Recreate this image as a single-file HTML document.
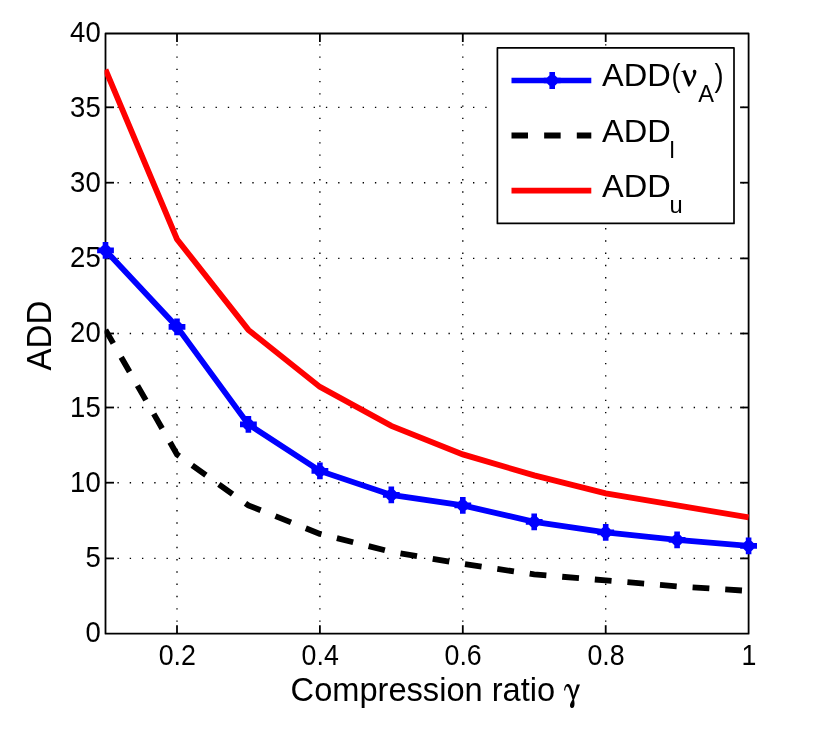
<!DOCTYPE html>
<html><head><meta charset="utf-8"><title>chart</title>
<style>
html,body{margin:0;padding:0;background:#fff;}
svg{display:block;will-change:transform}
text{font-family:"Liberation Sans",sans-serif;fill:#000}
</style></head><body>
<svg width="829" height="735" viewBox="0 0 829 735">
<rect width="829" height="735" fill="#fff"/>
<g stroke="#000" stroke-width="1.35" stroke-dasharray="1.35 10.91" stroke-dashoffset="0.3" stroke-linecap="butt" fill="none">
<line x1="177.0" y1="633.7" x2="177.0" y2="33.5"/>
<line x1="319.9" y1="633.7" x2="319.9" y2="33.5"/>
<line x1="462.8" y1="633.7" x2="462.8" y2="33.5"/>
<line x1="605.7" y1="633.7" x2="605.7" y2="33.5"/>
<line x1="105.5" y1="558.4" x2="748.6" y2="558.4"/>
<line x1="105.5" y1="482.7" x2="748.6" y2="482.7"/>
<line x1="105.5" y1="407.5" x2="748.6" y2="407.5"/>
<line x1="105.5" y1="333.5" x2="748.6" y2="333.5"/>
<line x1="105.5" y1="258.4" x2="748.6" y2="258.4"/>
<line x1="105.5" y1="182.7" x2="748.6" y2="182.7"/>
<line x1="105.5" y1="107.3" x2="748.6" y2="107.3"/>
</g>
<rect x="105.5" y="33.5" width="643.1" height="600.2" fill="none" stroke="#000" stroke-width="1.8" stroke-linejoin="round"/>
<g stroke="#000" stroke-width="1.8" stroke-linecap="butt">
<line x1="177.0" y1="633.7" x2="177.0" y2="625.2"/>
<line x1="177.0" y1="33.5" x2="177.0" y2="42.0"/>
<line x1="319.9" y1="633.7" x2="319.9" y2="625.2"/>
<line x1="319.9" y1="33.5" x2="319.9" y2="42.0"/>
<line x1="462.8" y1="633.7" x2="462.8" y2="625.2"/>
<line x1="462.8" y1="33.5" x2="462.8" y2="42.0"/>
<line x1="605.7" y1="633.7" x2="605.7" y2="625.2"/>
<line x1="605.7" y1="33.5" x2="605.7" y2="42.0"/>
<line x1="105.5" y1="558.4" x2="114.0" y2="558.4"/>
<line x1="748.6" y1="558.4" x2="740.1" y2="558.4"/>
<line x1="105.5" y1="482.7" x2="114.0" y2="482.7"/>
<line x1="748.6" y1="482.7" x2="740.1" y2="482.7"/>
<line x1="105.5" y1="407.5" x2="114.0" y2="407.5"/>
<line x1="748.6" y1="407.5" x2="740.1" y2="407.5"/>
<line x1="105.5" y1="333.5" x2="114.0" y2="333.5"/>
<line x1="748.6" y1="333.5" x2="740.1" y2="333.5"/>
<line x1="105.5" y1="258.4" x2="114.0" y2="258.4"/>
<line x1="748.6" y1="258.4" x2="740.1" y2="258.4"/>
<line x1="105.5" y1="182.7" x2="114.0" y2="182.7"/>
<line x1="748.6" y1="182.7" x2="740.1" y2="182.7"/>
<line x1="105.5" y1="107.3" x2="114.0" y2="107.3"/>
<line x1="748.6" y1="107.3" x2="740.1" y2="107.3"/>
</g>
<clipPath id="c"><rect x="104.6" y="32.6" width="644.9" height="602.0"/></clipPath><g clip-path="url(#c)">
<polyline points="105.5,69.7 177.0,239.2 248.4,329.9 319.9,386.9 391.3,425.9 462.8,454.4 534.2,475.4 605.7,493.4 677.1,505.4 748.6,517.4" fill="none" stroke="#f00" stroke-width="5.8" stroke-linejoin="miter"/>
<polyline points="105.5,329.9 177.0,454.4 248.4,505.4 319.9,533.9 391.3,551.9 462.8,563.9 534.2,574.4 605.7,580.4 677.1,586.4 748.6,590.9" fill="none" stroke="#000" stroke-width="5.8" stroke-dasharray="16.8 15.9" stroke-dashoffset="1.2"/>
<polyline points="105.5,250.4 177.0,326.9 248.4,424.4 319.9,470.9 391.3,494.9 462.8,505.4 534.2,521.9 605.7,532.4 677.1,539.9 748.6,545.9" fill="none" stroke="#00f" stroke-width="5.8"/>
</g>
<g stroke="#00f" stroke-width="5.6" fill="none"><path d="M97.1 250.4H113.9M105.5 242.0V258.8M101.5 246.4L109.5 254.4M101.5 254.4L109.5 246.4"/></g>
<g stroke="#00f" stroke-width="5.6" fill="none"><path d="M168.6 326.9H185.4M177.0 318.5V335.3M172.9 322.9L181.0 330.9M172.9 330.9L181.0 322.9"/></g>
<g stroke="#00f" stroke-width="5.6" fill="none"><path d="M240.0 424.4H256.8M248.4 416.0V432.8M244.4 420.4L252.4 428.4M244.4 428.4L252.4 420.4"/></g>
<g stroke="#00f" stroke-width="5.6" fill="none"><path d="M311.5 470.9H328.3M319.9 462.5V479.3M315.8 466.9L323.9 474.9M315.8 474.9L323.9 466.9"/></g>
<g stroke="#00f" stroke-width="5.6" fill="none"><path d="M382.9 494.9H399.7M391.3 486.5V503.3M387.3 490.9L395.4 498.9M387.3 498.9L395.4 490.9"/></g>
<g stroke="#00f" stroke-width="5.6" fill="none"><path d="M454.4 505.4H471.2M462.8 497.0V513.8M458.7 501.4L466.8 509.4M458.7 509.4L466.8 501.4"/></g>
<g stroke="#00f" stroke-width="5.6" fill="none"><path d="M525.8 521.9H542.6M534.2 513.5V530.3M530.2 517.9L538.3 525.9M530.2 525.9L538.3 517.9"/></g>
<g stroke="#00f" stroke-width="5.6" fill="none"><path d="M597.3 532.4H614.1M605.7 524.0V540.8M601.7 528.4L609.7 536.4M601.7 536.4L609.7 528.4"/></g>
<g stroke="#00f" stroke-width="5.6" fill="none"><path d="M668.7 539.9H685.5M677.1 531.5V548.3M673.1 535.9L681.2 543.9M673.1 543.9L681.2 535.9"/></g>
<g stroke="#00f" stroke-width="5.6" fill="none"><path d="M740.2 545.9H757.0M748.6 537.5V554.3M744.6 541.9L752.6 549.9M744.6 549.9L752.6 541.9"/></g>
<text transform="translate(100.7,642.3) scale(0.935,1)" font-size="29.4" text-anchor="end" >0</text>
<text transform="translate(100.7,567.3) scale(0.935,1)" font-size="29.4" text-anchor="end" >5</text>
<text transform="translate(100.7,492.3) scale(0.935,1)" font-size="29.4" text-anchor="end" >10</text>
<text transform="translate(100.7,417.3) scale(0.935,1)" font-size="29.4" text-anchor="end" >15</text>
<text transform="translate(100.7,342.3) scale(0.935,1)" font-size="29.4" text-anchor="end" >20</text>
<text transform="translate(100.7,267.3) scale(0.935,1)" font-size="29.4" text-anchor="end" >25</text>
<text transform="translate(100.7,192.3) scale(0.935,1)" font-size="29.4" text-anchor="end" >30</text>
<text transform="translate(100.7,117.3) scale(0.935,1)" font-size="29.4" text-anchor="end" >35</text>
<text transform="translate(100.7,42.3) scale(0.935,1)" font-size="29.4" text-anchor="end" >40</text>
<text transform="translate(177.3,664.6) scale(0.91,1)" font-size="29.4" text-anchor="middle" >0.2</text>
<text transform="translate(320.2,664.6) scale(0.91,1)" font-size="29.4" text-anchor="middle" >0.4</text>
<text transform="translate(463.1,664.6) scale(0.91,1)" font-size="29.4" text-anchor="middle" >0.6</text>
<text transform="translate(606.0,664.6) scale(0.91,1)" font-size="29.4" text-anchor="middle" >0.8</text>
<text transform="translate(748.9,664.6) scale(0.91,1)" font-size="29.4" text-anchor="middle" >1</text>
<text transform="translate(290.6,701.2) scale(0.965,1)" font-size="33.8" text-anchor="start" >Compression ratio</text>
<path id="gam" d="M564.0 690.6 C564.4 686.5 565.8 684.0 567.9 684.0 C570.2 684.0 571.2 686.6 572.0 689.6 L573.7 695.6 L576.9 684.6 L580.0 684.6 L574.0 699.8 C574.7 702.4 574.8 705.2 573.9 706.9 C572.9 708.6 570.5 708.4 570.0 706.0 C569.7 704.0 571.4 701.6 572.5 699.6 L569.7 690.4 C569.0 687.6 568.2 686.5 567.1 686.5 C565.9 686.5 565.4 688.2 565.2 690.6 Z" fill="#000"/>
<text transform="translate(51.1,370.4) rotate(-90) scale(0.965,1)" font-size="34.199999999999996">ADD</text>
<rect x="497.4" y="47.9" width="236.6" height="175.5" fill="#fff" stroke="#000" stroke-width="1.7" stroke-linejoin="round"/>
<line x1="511.5" x2="591.3" y1="80.5" y2="80.5" stroke="#00f" stroke-width="5.6"/>
<g stroke="#00f" stroke-width="5.6" fill="none"><path d="M543.8 80.5H560.6M552.2 72.1V88.9M548.2 76.5L556.2 84.5M548.2 84.5L556.2 76.5"/></g>
<line x1="511.5" x2="591.3" y1="135.5" y2="135.5" stroke="#000" stroke-width="5.8" stroke-dasharray="16.5 16.15"/>
<line x1="511.5" x2="591.3" y1="190.6" y2="190.6" stroke="#f00" stroke-width="5.8"/>
<text transform="translate(601.9,86.2) scale(1.065,1)" font-size="30.6" text-anchor="start" >ADD</text>
<text transform="translate(601.9,141.6) scale(1.065,1)" font-size="30.6" text-anchor="start" >ADD</text>
<text transform="translate(601.9,197.0) scale(1.065,1)" font-size="30.6" text-anchor="start" >ADD</text>
<text transform="translate(671.4,86.2) scale(0.86,1)" font-size="31.6" text-anchor="start" >(</text>
<text transform="translate(714.6,86.2) scale(0.86,1)" font-size="31.6" text-anchor="start" >)</text>
<path d="M680.8 71.5 L685.3 69.95 C686.5 72.5 688.8 78.2 690.15 81.8 C692.0 78.5 693.4 75.5 693.4 73.6 C693.4 72.6 692.8 72.2 692.8 71.4 C692.8 70.4 693.6 69.8 694.6 69.8 C695.7 69.8 696.4 70.6 696.4 71.8 C696.4 74.5 693.0 81.0 689.4 86.6 L688.2 86.6 L683.0 72.4 C682.6 71.5 681.8 71.5 680.9 72.0 Z" fill="#000"/>
<text transform="translate(698.2,102.3) scale(1.0,1)" font-size="23.6" text-anchor="start" >A</text>
<text transform="translate(669.6,157.7) scale(1.0,1)" font-size="23.6" text-anchor="start" >l</text>
<text transform="translate(669.4,213.0) scale(1.0,1)" font-size="23.7" text-anchor="start" >u</text>
</svg></body></html>
